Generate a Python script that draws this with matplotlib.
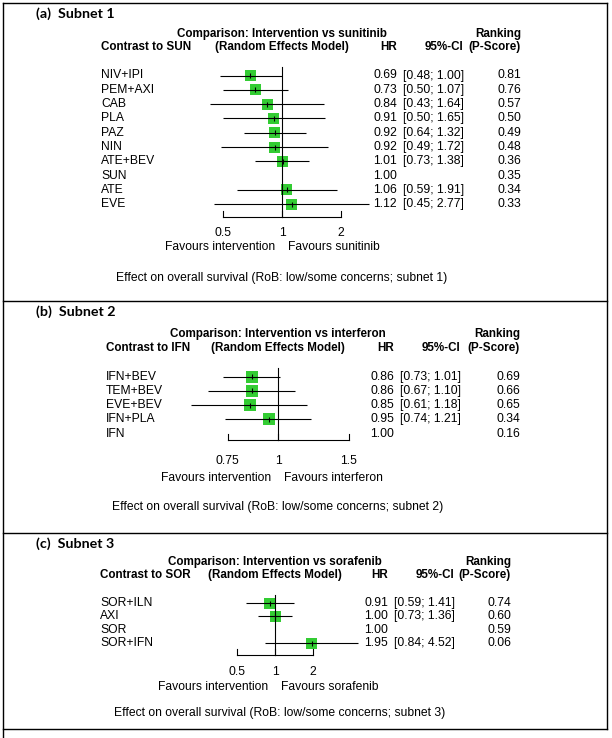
import numpy as np
import matplotlib
matplotlib.use("Agg")
import matplotlib.pyplot as plt
from matplotlib.transforms import blended_transform_factory as blend

# ---------------- data ----------------
a_labels = ["NIV+IPI", "PEM+AXI", "CAB", "PLA", "PAZ", "NIN", "ATE+BEV", "SUN", "ATE", "EVE"]
a_hr = [0.69, 0.73, 0.84, 0.91, 0.92, 0.92, 1.01, 1.00, 1.06, 1.12]
a_lo = [0.48, 0.50, 0.43, 0.50, 0.64, 0.49, 0.73, np.nan, 0.59, 0.45]
a_hi = [1.00, 1.07, 1.64, 1.65, 1.32, 1.72, 1.38, np.nan, 1.91, 2.77]
a_pscore = [0.81, 0.76, 0.57, 0.50, 0.49, 0.48, 0.36, 0.35, 0.34, 0.33]
a_ticks = [0.5, 1, 2]
a_ticklabels = ["0.5", "1", "2"]

b_labels = ["IFN+BEV", "TEM+BEV", "EVE+BEV", "IFN+PLA", "IFN"]
b_hr = [0.86, 0.86, 0.85, 0.95, 1.00]
b_lo = [0.73, 0.67, 0.61, 0.74, np.nan]
b_hi = [1.01, 1.10, 1.18, 1.21, np.nan]
b_pscore = [0.69, 0.66, 0.65, 0.34, 0.16]
b_ticks = [0.75, 1, 1.5]
b_ticklabels = ["0.75", "1", "1.5"]

c_labels = ["SOR+ILN", "AXI", "SOR", "SOR+IFN"]
c_hr = [0.91, 1.00, 1.00, 1.95]
c_lo = [0.59, 0.73, np.nan, 0.84]
c_hi = [1.41, 1.36, np.nan, 4.52]
c_pscore = [0.74, 0.60, 0.59, 0.06]
c_ticks = [0.5, 1, 2]
c_ticklabels = ["0.5", "1", "2"]

panels = [
    dict(tag="(a)  Subnet 1", comparator="sunitinib", ref="SUN",
         labels=a_labels, hr=a_hr, lo=a_lo, hi=a_hi, ps=a_pscore,
         ticks=a_ticks, ticklabels=a_ticklabels,
         caption="Effect on overall survival (RoB: low/some concerns; subnet 1)",
         title_y=14, h1_y=33.5, h2_y=47, row0=75.5, dy=14.3, vtop=67, bracket=217,
         tl_y=233, fav_y=247, cap_y=278, x_one=282, k=85.0, label_x=101,
         hr_r=397, ci_l=403, p_r=521, cap_x=116, sq=11),
    dict(tag="(b)  Subnet 2", comparator="interferon", ref="IFN",
         labels=b_labels, hr=b_hr, lo=b_lo, hi=b_hi, ps=b_pscore,
         ticks=b_ticks, ticklabels=b_ticklabels,
         caption="Effect on overall survival (RoB: low/some concerns; subnet 2)",
         title_y=312, h1_y=334, h2_y=348, row0=376.5, dy=14.3, vtop=368, bracket=440,
         tl_y=461, fav_y=478, cap_y=507, x_one=278, k=175.0, label_x=106,
         hr_r=394, ci_l=400, p_r=520, cap_x=112, sq=12),
    dict(tag="(c)  Subnet 3", comparator="sorafenib", ref="SOR",
         labels=c_labels, hr=c_hr, lo=c_lo, hi=c_hi, ps=c_pscore,
         ticks=c_ticks, ticklabels=c_ticklabels,
         caption="Effect on overall survival (RoB: low/some concerns; subnet 3)",
         title_y=544, h1_y=562, h2_y=575, row0=603, dy=13.4, vtop=595, bracket=655,
         tl_y=672, fav_y=687, cap_y=713, x_one=275, k=54.8, label_x=100,
         hr_r=388, ci_l=394, p_r=511, cap_x=114, sq=11),
]

W, H, DPI = 612, 738, 100
FS = 8.7
FSB = 8.4
FONT = "Liberation Sans"
GREEN = "#33CC33"
PX = 72.0 / DPI  # points per pixel

fig = plt.figure(figsize=(W / DPI, H / DPI), dpi=DPI)
bg = fig.add_axes([0, 0, 1, 1])
bg.set_xlim(0, W)
bg.set_ylim(H, 0)
bg.axis("off")

# frame
lw_frame = 1.4 * PX
bg.plot([3, 607], [2.5, 2.5], color="black", lw=lw_frame, solid_capstyle="projecting")
bg.plot([3, 3], [2.5, H], color="black", lw=lw_frame)
bg.plot([607, 607], [2.5, 729], color="black", lw=lw_frame)
for yy in (300.5, 533, 729):
    bg.plot([3, 607], [yy, yy], color="black", lw=lw_frame)

for p in panels:
    n = len(p["labels"])
    # forest axes
    half = 110
    left_px, right_px = p["x_one"] - half, p["x_one"] + half
    top_px, bot_px = p["vtop"], p["bracket"]
    ax = fig.add_axes([left_px / W, 1 - bot_px / H, (right_px - left_px) / W, (bot_px - top_px) / H])
    ax.set_xscale("log")
    ax.set_xlim(np.exp(-half / p["k"]), np.exp(half / p["k"]))
    ax.set_ylim((bot_px - p["row0"]) / p["dy"], (top_px - p["row0"]) / p["dy"])
    ax.axis("off")
    ax.patch.set_alpha(0)

    rows = np.arange(n)
    hr = np.array(p["hr"])
    lo = np.array(p["lo"])
    hi = np.array(p["hi"])
    has = ~np.isnan(lo)

    ax.scatter(hr[has], rows[has], marker="s", s=(p["sq"] * PX) ** 2, color=GREEN,
               edgecolors="none", zorder=2, clip_on=False)
    ax.hlines(rows[has], lo[has], hi[has], color="black", lw=1.0 * PX * 1.1, zorder=3, clip_on=False)
    ax.vlines(hr[has], rows[has] - 2.5 / p["dy"], rows[has] + 2.5 / p["dy"], color="black",
              lw=1.0 * PX * 1.1, zorder=4, clip_on=False)
    # line of no effect
    tr = blend(ax.transData, bg.transData)
    ax.plot([1, 1], [p["vtop"], p["bracket"]], transform=tr, color="black", lw=1.1 * PX, clip_on=False)
    # bracket axis
    t = p["ticks"]
    ax.plot([t[0], t[-1]], [p["bracket"], p["bracket"]], transform=tr, color="black",
            lw=1.1 * PX, clip_on=False)
    for tv, tl in zip(t, p["ticklabels"]):
        ax.plot([tv, tv], [p["bracket"] - 6, p["bracket"]], transform=tr, color="black",
                lw=1.1 * PX, clip_on=False)
        ax.text(tv, p["tl_y"], tl, transform=tr, ha="center", va="center",
                fontsize=FS, family=FONT)

    # texts
    ty = blend(bg.transData, ax.transData)
    for i in range(n):
        ax.text(p["label_x"], i, p["labels"][i], transform=ty, ha="left", va="center",
                fontsize=FS, family=FONT)
        ax.text(p["hr_r"], i, f"{p['hr'][i]:.2f}", transform=ty, ha="right", va="center",
                fontsize=FS, family=FONT)
        if has[i]:
            ax.text(p["ci_l"], i, f"[{p['lo'][i]:.2f}; {p['hi'][i]:.2f}]", transform=ty,
                    ha="left", va="center", fontsize=FS, family=FONT)
        ax.text(p["p_r"], i, f"{p['ps'][i]:.2f}", transform=ty, ha="right", va="center",
                fontsize=FS, family=FONT)

    xo = p["x_one"]
    bg.text(36, p["title_y"], p["tag"], ha="left", va="center", fontsize=10.3,
            family="Lato", fontweight="bold")
    bg.text(xo, p["h1_y"], f"Comparison: Intervention vs {p['comparator']}", ha="center",
            va="center", fontsize=FSB, family=FONT, fontweight="bold")
    bg.text(p["p_r"], p["h1_y"], "Ranking", ha="right", va="center", fontsize=FSB,
            family=FONT, fontweight="bold")
    bg.text(p["label_x"], p["h2_y"], f"Contrast to {p['ref']}", ha="left", va="center",
            fontsize=FSB, family=FONT, fontweight="bold")
    bg.text(xo, p["h2_y"], "(Random Effects Model)", ha="center", va="center",
            fontsize=FSB, family=FONT, fontweight="bold")
    bg.text(p["hr_r"], p["h2_y"], "HR", ha="right", va="center", fontsize=FSB,
            family=FONT, fontweight="bold")
    bg.text(p["ci_l"] + 60, p["h2_y"], "95%-CI", ha="right", va="center", fontsize=FSB,
            family=FONT, fontweight="bold")
    bg.text(p["p_r"], p["h2_y"], "(P-Score)", ha="right", va="center", fontsize=FSB,
            family=FONT, fontweight="bold")
    bg.text(xo - 7, p["fav_y"], "Favours intervention", ha="right", va="center",
            fontsize=FS, family=FONT)
    bg.text(xo + 6, p["fav_y"], f"Favours {p['comparator']}", ha="left", va="center",
            fontsize=FS, family=FONT)
    bg.text(p["cap_x"], p["cap_y"], p["caption"], ha="left", va="center",
            fontsize=FS, family=FONT)

fig.savefig("out.png", dpi=DPI)
